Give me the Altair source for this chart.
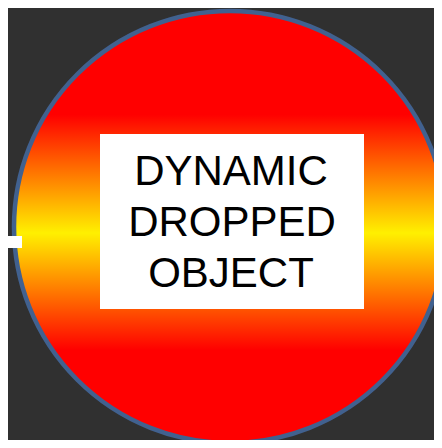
import altair as alt
import pandas as pd
import math

# Content
labels = ["DYNAMIC", "DROPPED", "OBJECT"]

# Layout (page pixel coordinates of the reference)
label_x = [231, 232, 231]
label_y = [185, 236, 287]
circle_cx, circle_cy, circle_r = 230, 227, 216
box = {"x": 100, "x2": 364, "y": 134, "y2": 309}
tab = {"x": 8, "x2": 22, "y": 236, "y2": 248}

# The view covers page pixels 8..434 horizontally and 8..440 vertically
xs = alt.Scale(domain=[8, 434], range=[0, 426])
ys = alt.Scale(domain=[8, 440], range=[0, 432])

circle_df = pd.DataFrame({"x": [circle_cx], "y": [circle_cy]})
box_df = pd.DataFrame([box])
tab_df = pd.DataFrame([tab])
text_df = pd.DataFrame({"label": labels, "x": label_x, "y": label_y})

grad = alt.Gradient(
    gradient="linear",
    stops=[
        alt.GradientStop(color="#ff0000", offset=0),
        alt.GradientStop(color="#ff0000", offset=0.24),
        alt.GradientStop(color="#fff000", offset=0.514),
        alt.GradientStop(color="#ff0000", offset=0.785),
        alt.GradientStop(color="#ff0000", offset=1),
    ],
    x1=0, x2=0, y1=0, y2=1,
)

circle = alt.Chart(circle_df).mark_arc(
    fill=grad, stroke="#41618f", strokeWidth=4.5, opacity=1,
    radius=circle_r, theta=0, theta2=2 * math.pi,
).encode(
    x=alt.X("x:Q", scale=xs, axis=None),
    y=alt.Y("y:Q", scale=ys, axis=None),
)

rect = alt.Chart(box_df).mark_rect(color="white").encode(
    x=alt.X("x:Q", scale=xs, axis=None), x2="x2:Q",
    y=alt.Y("y:Q", scale=ys, axis=None), y2="y2:Q",
)

tab_mark = alt.Chart(tab_df).mark_rect(color="white").encode(
    x=alt.X("x:Q", scale=xs, axis=None), x2="x2:Q",
    y=alt.Y("y:Q", scale=ys, axis=None), y2="y2:Q",
)

text = alt.Chart(text_df).mark_text(
    font="Liberation Sans", fontSize=42, color="black",
    align="center", baseline="alphabetic",
).encode(
    x=alt.X("x:Q", scale=xs, axis=None),
    y=alt.Y("y:Q", scale=ys, axis=None),
    text="label:N",
)

chart = alt.layer(circle, rect, tab_mark, text).properties(
    width=426, height=432,
    background="#303030",
    padding=0,
    autosize=alt.AutoSizeParams(type="none"),
).configure_view(stroke=None)

chart.save("out.html", embed_options={"renderer": "svg", "actions": False})
